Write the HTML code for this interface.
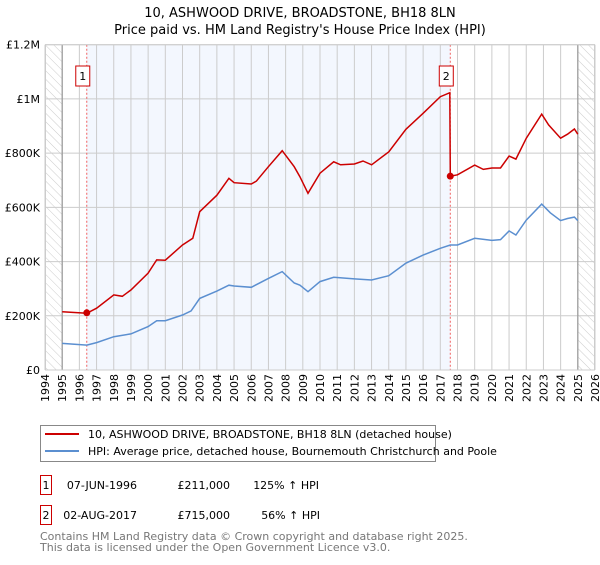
<!DOCTYPE html>
<html><head><meta charset="utf-8"><style>
body{margin:0;background:#fff;font-family:"Liberation Sans","DejaVu Sans",sans-serif;}
svg text{font-family:"DejaVu Sans","Liberation Sans",sans-serif;}
</style></head><body>
<svg id="chart" width="600" height="560" viewBox="0 0 600 560" xmlns="http://www.w3.org/2000/svg">
<defs>
<pattern id="hatch" width="6" height="6" patternUnits="userSpaceOnUse" patternTransform="rotate(-45)">
<line x1="0" y1="0" x2="0" y2="6" stroke="#ccc" stroke-width="1"/></pattern>
</defs>
<text x="300" y="17" text-anchor="middle" font-size="13">10, ASHWOOD DRIVE, BROADSTONE, BH18 8LN</text>
<text x="300" y="34" text-anchor="middle" font-size="13">Price paid vs. HM Land Registry's House Price Index (HPI)</text>
<g id="plot"></g>
<g>
<rect x="40.5" y="425.5" width="395" height="36" fill="#fff" stroke="#888"/>
<line x1="45" y1="434" x2="79" y2="434" stroke="#cc0000" stroke-width="2"/>
<text x="88" y="438" font-size="11">10, ASHWOOD DRIVE, BROADSTONE, BH18 8LN (detached house)</text>
<line x1="45" y1="451" x2="79" y2="451" stroke="#5b8fd0" stroke-width="2"/>
<text x="88" y="455" font-size="11">HPI: Average price, detached house, Bournemouth Christchurch and Poole</text>
</g>
<g font-size="11">
<rect x="40.5" y="475.5" width="11" height="19" fill="#fff" stroke="#cc0000"/>
<text x="46" y="489" text-anchor="middle">1</text>
<text x="137" y="489" text-anchor="end">07-JUN-1996</text>
<text x="230" y="489" text-anchor="end">£211,000</text>
<text x="319" y="489" text-anchor="end">125% ↑ HPI</text>
<rect x="40.5" y="505.5" width="11" height="19" fill="#fff" stroke="#cc0000"/>
<text x="46" y="519" text-anchor="middle">2</text>
<text x="137" y="519" text-anchor="end">02-AUG-2017</text>
<text x="230" y="519" text-anchor="end">£715,000</text>
<text x="320" y="519" text-anchor="end">56% ↑ HPI</text>
</g>
<text x="40" y="540" font-size="11" fill="#777">Contains HM Land Registry data © Crown copyright and database right 2025.</text>
<text x="40" y="551" font-size="11" fill="#777">This data is licensed under the Open Government Licence v3.0.</text>
</svg>
<script>
const hpiYears=[1995,1996.43,1997,1998,1999,2000,2000.5,2001,2002,2002.5,2003,2004,2004.7,2005,2006,2007,2007.8,2008.5,2008.83,2009.3,2010,2010.8,2012,2013,2014,2015,2016,2017,2017.58,2018,2019,2020,2020.5,2021,2021.4,2022,2022.9,2023.4,2024,2024.4,2024.8,2025];
const hpiValues=[98000,92000,101000,123000,133000,160000,182000,182000,203000,218000,264000,291000,313000,310000,305000,338000,363000,321000,313000,289000,326000,342000,336000,332000,348000,394000,424000,449000,461000,461000,486000,478000,481000,513000,498000,553000,612000,580000,551000,559000,564000,551000];
const priceYears=[1995,1996.43,1997,1998,1998.5,1999,2000,2000.5,2001,2002,2002.6,2003,2004,2004.7,2005,2006,2006.3,2007,2007.8,2008.5,2008.83,2009.3,2010,2010.8,2011.2,2012,2012.5,2013,2014,2015,2016,2017,2017.55,2017.58,2018,2019,2019.5,2020,2020.5,2021,2021.4,2022,2022.9,2023.3,2024,2024.4,2024.8,2025];
const priceValues=[215000,209000,228000,277000,272000,295000,357000,406000,405000,461000,486000,584000,645000,707000,691000,686000,697000,750000,809000,750000,713000,652000,726000,768000,757000,760000,771000,757000,805000,888000,947000,1008000,1023000,715000,720000,756000,740000,745000,745000,789000,778000,855000,944000,904000,855000,870000,889000,870000];
const saleYears=[1996.43,2017.58];
const saleValues=[211000,715000];
const saleLabels=["1","2"];
const yTicks=[0,200000,400000,600000,800000,1000000,1200000];
const yTickLabels=["£0","£200K","£400K","£600K","£800K","£1M","£1.2M"];
const xStart=1994,xEnd=2026;
const L=45,R=595,T=44.7,B=370;
const X=v=>L+(v-xStart)/(xEnd-xStart)*(R-L);
const Y=v=>B-v/1200000*(B-T);
const NS="http://www.w3.org/2000/svg";
const g=document.getElementById('plot');
function mk(tag,attrs,parent){const e=document.createElementNS(NS,tag);for(const k in attrs)e.setAttribute(k,attrs[k]);(parent||g).appendChild(e);return e;}
let e;
e=mk('rect',{x:L,y:T,width:R-L,height:B-T,fill:'#fff'});


e=mk('rect',{x:X(saleYears[0]),y:T,width:X(saleYears[1])-X(saleYears[0]),height:B-T,fill:'#f3f7fe'});


e=mk('rect',{x:L,y:T,width:X(1995)-L,height:B-T,fill:'url(#hatch)'});


e=mk('rect',{x:X(2025),y:T,width:R-X(2025),height:B-T,fill:'url(#hatch)'});


for(let yr=xStart;yr<=xEnd;yr++){
  e=mk('line',{x1:X(yr),x2:X(yr),y1:T,y2:B,stroke:'#ccc','stroke-width':1});
  
  
  const t=mk('text',{x:0,y:0,'font-size':11,'text-anchor':'end',transform:`translate(${X(yr)+4},374) rotate(-90)`});
  t.textContent=yr;
  
  
}
yTicks.forEach((v,i)=>{
  e=mk('line',{x1:L,x2:R,y1:Y(v),y2:Y(v),stroke:'#ccc','stroke-width':1});
  
  
  const t=mk('text',{x:40,y:Y(v)+4,'font-size':11,'text-anchor':'end'});
  t.textContent=yTickLabels[i];
  
  
});
[1995,2025].forEach(yr=>{
  e=mk('line',{x1:X(yr),x2:X(yr),y1:T,y2:B,stroke:'#999','stroke-width':1.2});
  
  
});
saleYears.forEach((yr,i)=>{
  e=mk('line',{x1:X(yr),x2:X(yr),y1:T,y2:B,stroke:'#f06060','stroke-width':1,'stroke-dasharray':'2,2'});
  
  
});
const pts=(xs,ys)=>xs.map((x,i)=>X(x).toFixed(1)+','+Y(ys[i]).toFixed(1)).join(' ');
e=mk('polyline',{points:pts(hpiYears,hpiValues),fill:'none',stroke:'#5b8fd0','stroke-width':1.5});


e=mk('polyline',{points:pts(priceYears,priceValues),fill:'none',stroke:'#cc0000','stroke-width':1.5});


saleYears.forEach((yr,i)=>{
  e=mk('circle',{cx:X(yr),cy:Y(saleValues[i]),r:3.5,fill:'#cc0000'});
  
  
  const bx=X(yr)-7-4;
  e=mk('rect',{x:bx,y:66,width:14,height:20,fill:'#fff',stroke:'#cc0000'});
  
  
  const t=mk('text',{x:bx+7,y:80,'font-size':11,'text-anchor':'middle'});
  t.textContent=saleLabels[i];
  
  
});
e=mk('rect',{x:L+0.5,y:T,width:R-L-1,height:B-T,fill:'none',stroke:'#ccc'});


</script>
</body></html>
